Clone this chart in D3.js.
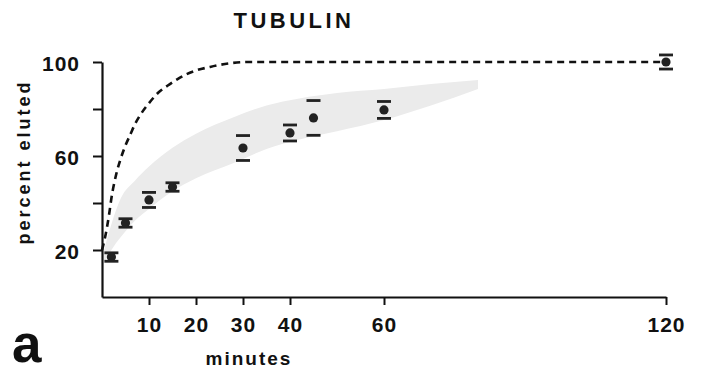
<!DOCTYPE html>
<html>
<head>
<meta charset="utf-8">
<script src="https://cdn.jsdelivr.net/npm/d3@7"></script>
<style>
  body { margin: 0; background: #fff; }
  text { font-family: "Liberation Sans", Arial, sans-serif; font-weight: bold; fill: #111; }
</style>
</head>
<body>
<div id="chart"></div>
<script>
// measured points: minutes, percent eluted, error (+/-)
const minutes = [2, 5, 10, 15, 30, 40, 45, 60, 120];
const eluted  = [17, 31.5, 41.3, 46.8, 63.4, 69.8, 76.2, 79.6, 100];
const errors  = [1.8, 1.8, 3.2, 1.8, 5.3, 3.4, 7.4, 3.6, 3];

// dashed theoretical curve
const curveT = [0, 0.5, 1, 1.5, 2, 3, 4, 5, 6, 7, 8, 10, 12, 14, 16, 18, 20, 23, 27, 31, 60, 90, 120];
const curveV = [20, 24, 29, 35, 42, 52, 59, 64.5, 69, 73.5, 77, 82.5, 87, 90, 92.6, 94.8, 96.4, 97.9, 99.4, 100, 100, 100, 100];

// shaded band: minutes, upper and lower edge (percent)
const bandT     = [0.3, 2, 4, 7, 10, 15, 20, 28, 35, 42, 50, 60, 70, 80];
const bandUpper = [19, 31, 42, 49.5, 55.5, 63.5, 69.5, 76.5, 81.5, 84.5, 86.8, 88.5, 90.6, 92.3];
const bandLower = [14, 20, 25.5, 32.5, 37.5, 45, 50.5, 57, 63, 67, 70.5, 75.3, 81.5, 88.5];

const xTicks = [10, 20, 30, 40, 60, 120];
const yTicks = [20, 40, 60, 80, 100];
const yLabels = [20, 60, 100];

const W = 701, H = 373;
const svg = d3.select("#chart").append("svg")
    .attr("width", W)
    .attr("height", H);

const x = d3.scaleLinear().domain([0, 120]).range([102, 666]);
const y = d3.scaleLinear().domain([0, 100]).range([297, 62]);

// band
svg.append("path")
    .datum(bandT.map((t, i) => ({t: t, hi: bandUpper[i], lo: bandLower[i]})))
    .attr("d", d3.area()
        .x(d => x(d.t))
        .y0(d => y(d.lo))
        .y1(d => y(d.hi))
        .curve(d3.curveMonotoneX))
    .attr("fill", "#ebebeb");

// dashed curve
svg.append("path")
    .datum(curveT.map((t, i) => [t, curveV[i]]))
    .attr("d", d3.line().x(d => x(d[0])).y(d => y(d[1])).curve(d3.curveMonotoneX))
    .attr("fill", "none")
    .attr("stroke", "#111")
    .attr("stroke-width", 2.6)
    .attr("stroke-dasharray", "7,5");

// axes
const xAxis = svg.append("g")
    .attr("transform", "translate(0,297)")
    .call(d3.axisBottom(x).tickValues(xTicks).tickSize(8).tickSizeOuter(0).tickPadding(12));
const yAxis = svg.append("g")
    .attr("transform", "translate(102,0)")
    .call(d3.axisLeft(y).tickValues(yTicks).tickSize(9).tickSizeOuter(0).tickPadding(13)
        .tickFormat(d => yLabels.includes(d) ? d : ""));

[xAxis, yAxis].forEach(a => {
    a.select(".domain").attr("stroke", "#111").attr("stroke-width", 2.2);
    a.selectAll(".tick line").attr("stroke", "#111").attr("stroke-width", 2);
    a.selectAll("text")
        .attr("font-family", "Liberation Sans, Arial, sans-serif")
        .attr("font-weight", "bold")
        .attr("font-size", 21)
        .attr("letter-spacing", 1)
        .attr("fill", "#111");
});
yAxis.selectAll("text").attr("dy", "0.42em");

// data points with error caps
const pts = svg.append("g");
minutes.forEach((m, i) => {
    const cx = x(m);
    [eluted[i] - errors[i], eluted[i] + errors[i]].forEach(v => {
        pts.append("line")
            .attr("x1", cx - 7).attr("x2", cx + 7)
            .attr("y1", y(v)).attr("y2", y(v))
            .attr("stroke", "#222").attr("stroke-width", 2.8);
    });
    pts.append("circle")
        .attr("cx", cx).attr("cy", y(eluted[i]))
        .attr("r", 4.6)
        .attr("fill", "#222");
});

// texts
svg.append("text")
    .attr("x", 294).attr("y", 28)
    .attr("text-anchor", "middle")
    .attr("font-size", 22)
    .attr("letter-spacing", 3.5)
    .text("TUBULIN");

svg.append("text")
    .attr("x", 249).attr("y", 365)
    .attr("text-anchor", "middle")
    .attr("font-size", 19)
    .attr("letter-spacing", 2)
    .text("minutes");

svg.append("text")
    .attr("transform", "translate(30,162) rotate(-90)")
    .attr("text-anchor", "middle")
    .attr("font-size", 18)
    .attr("letter-spacing", 3)
    .text("percent eluted");

svg.append("text")
    .attr("x", 12).attr("y", 362)
    .attr("font-size", 53)
    .text("a");
</script>
</body>
</html>
